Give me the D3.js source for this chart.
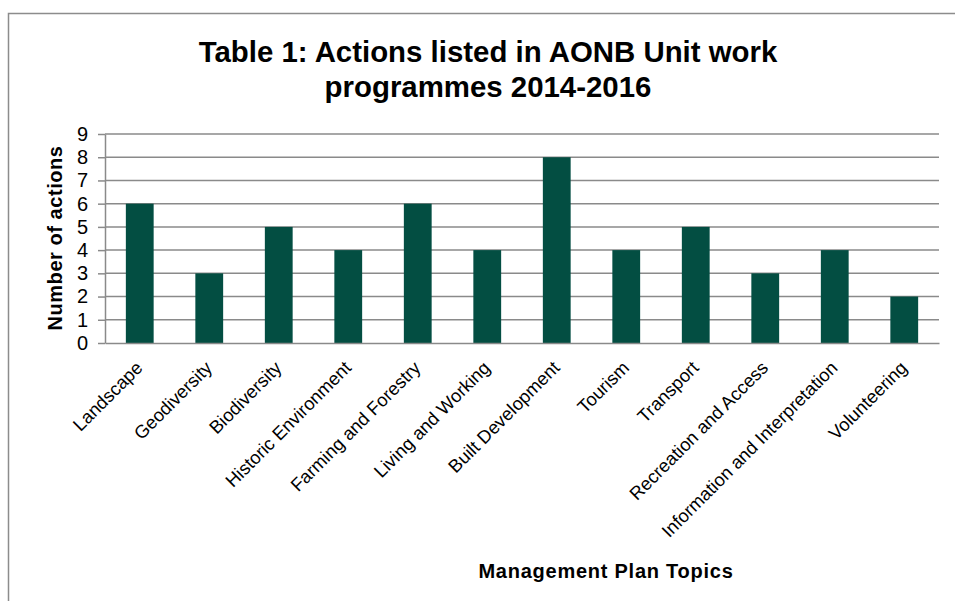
<!DOCTYPE html>
<html>
<head>
<meta charset="utf-8">
<script src="https://cdn.jsdelivr.net/npm/d3@7"></script>
<style>
  body { margin: 0; background: #fff; }
  text { font-family: "Liberation Sans", Arial, sans-serif; }
</style>
</head>
<body>
<script>
var w = 955;
var h = 601;

var topics = ["Landscape", "Geodiversity", "Biodiversity", "Historic Environment",
              "Farming and Forestry", "Living and Working", "Built Development",
              "Tourism", "Transport", "Recreation and Access",
              "Information and Interpretation", "Volunteering"];
var actions = [6, 3, 5, 4, 6, 4, 8, 4, 5, 3, 4, 2];
var yTicks = [0, 1, 2, 3, 4, 5, 6, 7, 8, 9];
var titleLines = ["Table 1: Actions listed in AONB Unit work", "programmes 2014-2016"];

var svg = d3.select("body")
            .append("svg")
                .attr("width", w)
                .attr("height", h);

// outer frame (only top and left edges visible in the picture)
svg.append("path")
    .attr("d", "M8.5," + h + "V13.5H" + w)
    .attr("fill", "none")
    .attr("stroke", "#8c8c8c")
    .attr("stroke-width", 1.5);

var x = d3.scaleBand()
    .domain(topics)
    .range([105, 939])
    .paddingInner(0.6)
    .paddingOuter(0.3);

var y = d3.scaleLinear()
    .domain([0, 9])
    .range([343, 134]);

// gridlines
svg.selectAll("line.grid")
    .data(yTicks.slice(1))
    .enter()
    .append("line")
        .attr("class", "grid")
        .attr("x1", 105)
        .attr("x2", 939)
        .attr("y1", function(d) {return y(d);})
        .attr("y2", function(d) {return y(d);})
        .attr("stroke", "#8a8a8a")
        .attr("stroke-width", 1.5);

// y axis
var yAxis = svg.append("g")
    .attr("transform", "translate(105,0)")
    .call(d3.axisLeft(y).tickValues(yTicks).tickSize(7).tickSizeOuter(0).tickPadding(10));
yAxis.select(".domain").attr("stroke", "#8a8a8a").attr("stroke-width", 1.5);
yAxis.selectAll(".tick line").attr("stroke", "#8a8a8a").attr("stroke-width", 1.5);
yAxis.selectAll(".tick text")
    .attr("font-size", 20)
    .attr("fill", "#000")
    .style("font-family", '"Liberation Sans", Arial, sans-serif');

// bars
svg.selectAll("rect.bar")
    .data(actions)
    .enter()
    .append("rect")
        .attr("class", "bar")
        .attr("x", function(d, i) {return x(topics[i]);})
        .attr("y", function(d) {return y(d);})
        .attr("width", x.bandwidth())
        .attr("height", function(d) {return y(0) - y(d);})
        .attr("fill", "#034e42");

// x axis
var xAxis = svg.append("g")
    .attr("transform", "translate(0," + y(0) + ")")
    .call(d3.axisBottom(x).tickSize(0).tickSizeOuter(0));
xAxis.select(".domain").attr("stroke", "#8a8a8a").attr("stroke-width", 1.5);
xAxis.selectAll(".tick text")
    .attr("font-size", 18.3)
    .attr("fill", "#000")
    .style("font-family", '"Liberation Sans", Arial, sans-serif')
    .attr("text-anchor", "end")
    .attr("dx", 0)
    .attr("dy", 0)
    .attr("y", 0)
    .attr("transform", "translate(4,26) rotate(-45)");

// title
svg.selectAll("text.title")
    .data(titleLines)
    .enter()
    .append("text")
        .attr("class", "title")
        .attr("x", 488)
        .attr("y", function(d, i) {return 62 + i * 35;})
        .attr("text-anchor", "middle")
        .attr("font-size", 29.4)
        .attr("font-weight", "bold")
        .text(function(d) {return d;});

// axis titles
svg.append("text")
    .attr("transform", "translate(62,238) rotate(-90)")
    .attr("text-anchor", "middle")
    .attr("font-size", 20)
    .attr("letter-spacing", 0.55)
    .attr("font-weight", "bold")
    .text("Number of actions");

svg.append("text")
    .attr("x", 606)
    .attr("y", 578)
    .attr("text-anchor", "middle")
    .attr("font-size", 20)
    .attr("letter-spacing", 0.75)
    .attr("font-weight", "bold")
    .text("Management Plan Topics");
</script>
</body>
</html>
